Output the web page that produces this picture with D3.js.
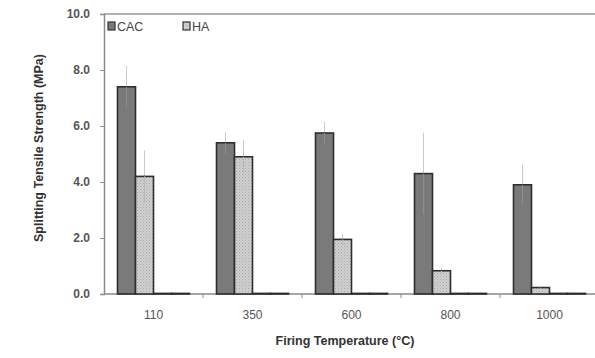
<!DOCTYPE html>
<meta charset="utf-8">
<script src="https://d3js.org/d3.v7.min.js"></script>
<body style="margin:0;background:#fff">
<svg width="595" height="358"></svg>
<script>
    // data
    var categories = ['110', '350', '600', '800', '1000'];
    var series     = ['CAC', 'HA', 'S3', 'S4'];
    var legendKeys = ['CAC', 'HA'];
    var cacValues  = [7.4, 5.4, 5.75, 4.3, 3.9];
    var cacErrors  = [0.75, 0.4, 0.4, 1.46, 0.71];
    var haValues   = [4.2, 4.9, 1.95, 0.83, 0.23];
    var haErrors   = [0.93, 0.6, 0.2, 0.1, 0.05];
    var s3Values   = [0, 0, 0, 0, 0];
    var s4Values   = [0, 0, 0, 0, 0];
    var yTicks     = [0, 2, 4, 6, 8, 10];

    var values = { CAC: cacValues, HA: haValues, S3: s3Values, S4: s4Values };
    var errors = { CAC: cacErrors, HA: haErrors, S3: s3Values, S4: s4Values };

    var svg = d3.select('svg');
    var margin = {left: 104, top: 14, right: -4, bottom: 64};
    var W = 595, H = 358;
    var font = 'Liberation Sans, Arial, sans-serif';

    var x = d3.scaleBand().domain(categories).range([margin.left, W - margin.right]).padding(0);
    var xs = d3.scaleBand().domain(series).range([0, x.bandwidth()]).paddingInner(0).paddingOuter(0.75);
    var y = d3.scaleLinear().domain([0, 10]).range([H - margin.bottom, margin.top]);

    var defs = svg.append('defs');
    var pat = defs.append('pattern').attr('id', 'dots').attr('patternUnits', 'userSpaceOnUse')
        .attr('width', 3).attr('height', 3);
    pat.append('rect').attr('width', 3).attr('height', 3).attr('fill', '#d0d0d0');
    pat.append('rect').attr('x', 0).attr('y', 0).attr('width', 1).attr('height', 1).attr('fill', '#a8a8a8');
    pat.append('rect').attr('x', 1.5).attr('y', 1.5).attr('width', 1).attr('height', 1).attr('fill', '#b4b4b4');

    var fills = { CAC: '#7a7a7a', HA: 'url(#dots)', S3: '#fff', S4: '#fff' };

    // frame line on top
    svg.append('line').attr('x1', margin.left).attr('x2', W).attr('y1', y(10)).attr('y2', y(10))
        .attr('stroke', '#9a9a9a').attr('stroke-width', 1.5);

    // y axis
    var yAxis = svg.append('g').attr('transform', 'translate(' + margin.left + ',0)')
        .call(d3.axisLeft(y).tickValues(yTicks).tickFormat(d3.format('.1f')).tickSize(4).tickPadding(10));
    yAxis.select('.domain').attr('stroke', '#8a8a8a').attr('stroke-width', 1.5);
    yAxis.selectAll('.tick line').attr('stroke', '#8a8a8a');
    yAxis.selectAll('text').attr('font-family', font)
        .attr('font-size', 12).attr('font-weight', 'bold').attr('fill', '#555');

    // x axis (drawn before bars so the zero bars sit on top)
    var xAxis = svg.append('g').attr('transform', 'translate(0,' + y(0) + ')');
    xAxis.append('line').attr('x1', margin.left).attr('x2', W).attr('stroke', '#8a8a8a').attr('stroke-width', 1.5);
    xAxis.selectAll('line.tk').data(categories.slice(1)).enter().append('line').attr('class', 'tk')
        .attr('x1', function(d){ return x(d); }).attr('x2', function(d){ return x(d); })
        .attr('y1', 0).attr('y2', 4).attr('stroke', '#8a8a8a');
    xAxis.selectAll('text').data(categories).enter().append('text')
        .attr('x', function(d){ return x(d) + x.bandwidth() / 2; })
        .attr('y', 25)
        .attr('text-anchor', 'middle')
        .attr('font-family', font)
        .attr('font-size', 12).attr('fill', '#555')
        .text(function(d){ return d; });

    // bars
    var groups = svg.append('g').selectAll('g').data(categories).enter().append('g')
        .attr('transform', function(d){ return 'translate(' + x(d) + ',0)'; });

    groups.selectAll('line.err').data(function(d, i){
            return ['CAC', 'HA'].map(function(s){ return {s: s, v: values[s][i], e: errors[s][i]}; });
        }).enter().append('line').attr('class', 'err')
        .attr('x1', function(d){ return xs(d.s) + xs.bandwidth() / 2; })
        .attr('x2', function(d){ return xs(d.s) + xs.bandwidth() / 2; })
        .attr('y1', function(d){ return y(d.v + d.e); })
        .attr('y2', function(d){ return y(d.v - d.e); })
        .attr('stroke', '#cacaca').attr('stroke-width', 1);

    // zero-height rects are not rendered, so keep a hairline height
    groups.selectAll('rect').data(function(d, i){
            return series.map(function(s){ return {s: s, v: values[s][i]}; });
        }).enter().append('rect')
        .attr('x', function(d){ return xs(d.s); })
        .attr('width', xs.bandwidth())
        .attr('y', function(d){ return Math.min(y(d.v), y(0) - 0.6); })
        .attr('height', function(d){ return Math.max(y(0) - y(d.v), 0.6); })
        .attr('fill', function(d){ return fills[d.s]; })
        .attr('stroke', '#2e2e2e').attr('stroke-width', 1.6);

    // lower half of the error bars shows faintly through the bars
    groups.selectAll('line.err2').data(function(d, i){
            return ['CAC', 'HA'].map(function(s){ return {s: s, v: values[s][i], e: errors[s][i]}; });
        }).enter().append('line').attr('class', 'err2')
        .attr('x1', function(d){ return xs(d.s) + xs.bandwidth() / 2; })
        .attr('x2', function(d){ return xs(d.s) + xs.bandwidth() / 2; })
        .attr('y1', function(d){ return y(d.v); })
        .attr('y2', function(d){ return Math.min(y(d.v - d.e), y(0)); })
        .attr('stroke', function(d){ return d.s === 'CAC' ? '#8e8e8e' : '#b8b8b8'; }).attr('stroke-width', 1);

    // titles
    svg.append('text').attr('x', 345).attr('y', 345).attr('text-anchor', 'middle')
        .attr('font-family', font).attr('font-size', 12.5)
        .attr('font-weight', 'bold').attr('fill', '#333')
        .text('Firing Temperature (°C)');
    svg.append('text').attr('transform', 'translate(43,148) rotate(-90)').attr('text-anchor', 'middle')
        .attr('font-family', font).attr('font-size', 12.5)
        .attr('font-weight', 'bold').attr('fill', '#333')
        .text('Splitting Tensile Strength (MPa)');

    // legend
    var legend = svg.append('g').selectAll('g').data(legendKeys).enter().append('g')
        .attr('transform', function(d, i){ return 'translate(' + (108 + i * 75) + ',22)'; });
    legend.append('rect').attr('width', 7).attr('height', 8)
        .attr('fill', function(d){ return fills[d]; }).attr('stroke', '#333').attr('stroke-width', 1.2);
    legend.append('text').attr('x', 9).attr('y', 9)
        .attr('font-family', font).attr('font-size', 12.5).attr('fill', '#444')
        .text(function(d){ return d; });
</script>
</body>
